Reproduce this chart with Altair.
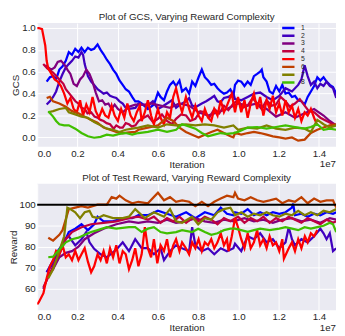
import altair as alt
import pandas as pd

# ---------------- data (x in units of 1e7 iterations) ----------------
series_names = ["1", "2", "3", "4", "5", "6", "7", "8"]
series_colors = ["#0000FF", "#4000BF", "#800080", "#BF0040",
                 "#FF0000", "#BF4000", "#808000", "#40BF00"]

x_ticks = [0.0, 0.2, 0.4, 0.6, 0.8, 1.0, 1.2, 1.4]
gcs_ticks = [0.0, 0.2, 0.4, 0.6, 0.8, 1.0]
reward_ticks = [60, 70, 80, 90, 100]
reward_target = [100]

# ---- GCS panel ----
gcs_x1 = [0.047, 0.063, 0.079, 0.094, 0.11, 0.126, 0.142, 0.157, 0.173, 0.189, 0.205, 0.22, 0.236, 0.252, 0.268, 0.283, 0.30, 0.315, 0.33, 0.346, 0.362, 0.377, 0.393, 0.409, 0.425, 0.44, 0.456, 0.472, 0.487, 0.503, 0.519, 0.55, 0.58, 0.60, 0.613, 0.63, 0.645, 0.66, 0.676, 0.69, 0.707, 0.72, 0.739, 0.755, 0.77, 0.786, 0.802, 0.818, 0.833, 0.849, 0.865, 0.88, 0.896, 0.912, 0.928, 0.943, 0.96, 0.975, 0.983, 0.998, 1.014, 1.03, 1.046, 1.061, 1.077, 1.093, 1.108, 1.116, 1.124, 1.14, 1.155, 1.171, 1.187, 1.203, 1.218, 1.234, 1.25, 1.266, 1.281, 1.297, 1.313, 1.329, 1.344, 1.36, 1.376, 1.392, 1.407, 1.423, 1.438, 1.454, 1.47, 1.486]
gcs_y1 = [0.51, 0.55, 0.56, 0.53, 0.62, 0.65, 0.70, 0.78, 0.755, 0.81, 0.78, 0.82, 0.78, 0.82, 0.80, 0.81, 0.85, 0.80, 0.76, 0.71, 0.67, 0.62, 0.58, 0.52, 0.48, 0.44, 0.42, 0.37, 0.33, 0.33, 0.31, 0.26, 0.30, 0.41, 0.37, 0.34, 0.42, 0.48, 0.51, 0.47, 0.52, 0.42, 0.45, 0.40, 0.51, 0.47, 0.55, 0.62, 0.55, 0.52, 0.48, 0.49, 0.45, 0.42, 0.40, 0.41, 0.44, 0.38, 0.48, 0.52, 0.51, 0.47, 0.51, 0.48, 0.56, 0.58, 0.60, 0.62, 0.55, 0.51, 0.42, 0.40, 0.47, 0.42, 0.48, 0.40, 0.41, 0.37, 0.38, 0.34, 0.33, 0.30, 0.37, 0.42, 0.47, 0.55, 0.52, 0.55, 0.51, 0.48, 0.46, 0.40]

gcs_x2 = [0.047, 0.063, 0.079, 0.094, 0.11, 0.126, 0.142, 0.157, 0.173, 0.189, 0.205, 0.22, 0.228, 0.236, 0.252, 0.268, 0.283, 0.30, 0.315, 0.33, 0.346, 0.362, 0.377, 0.393, 0.409, 0.425, 0.44, 0.456, 0.488, 0.503, 0.52, 0.55, 0.575, 0.60, 0.62, 0.645, 0.67, 0.69, 0.71, 0.74, 0.755, 0.77, 0.79, 0.818, 0.84, 0.865, 0.88, 0.896, 0.91, 0.928, 0.95, 0.975, 0.983, 1.014, 1.046, 1.077, 1.108, 1.14, 1.171, 1.203, 1.234, 1.266, 1.297, 1.313, 1.329, 1.344, 1.36, 1.376, 1.392, 1.407, 1.423, 1.438, 1.454, 1.47, 1.486]
gcs_y2 = [0.30, 0.33, 0.37, 0.42, 0.51, 0.58, 0.64, 0.67, 0.70, 0.74, 0.73, 0.78, 0.755, 0.67, 0.56, 0.51, 0.48, 0.44, 0.42, 0.40, 0.41, 0.38, 0.37, 0.36, 0.33, 0.31, 0.27, 0.26, 0.27, 0.31, 0.30, 0.29, 0.33, 0.26, 0.28, 0.31, 0.34, 0.27, 0.30, 0.33, 0.36, 0.29, 0.28, 0.31, 0.33, 0.36, 0.38, 0.33, 0.32, 0.36, 0.37, 0.40, 0.35, 0.34, 0.37, 0.40, 0.41, 0.37, 0.34, 0.38, 0.45, 0.42, 0.48, 0.53, 0.66, 0.56, 0.48, 0.51, 0.45, 0.49, 0.47, 0.51, 0.47, 0.45, 0.36]

gcs_x3 = [0.04, 0.055, 0.07, 0.087, 0.102, 0.118, 0.134, 0.15, 0.165, 0.181, 0.197, 0.213, 0.228, 0.244, 0.26, 0.275, 0.291, 0.307, 0.323, 0.338, 0.354, 0.37, 0.385, 0.401, 0.425, 0.456, 0.488, 0.503, 0.535, 0.566, 0.613, 0.66, 0.707, 0.755, 0.802, 0.849, 0.896, 0.943, 0.975, 0.998, 1.046, 1.093, 1.14, 1.187, 1.234, 1.281, 1.329, 1.376, 1.423, 1.454, 1.486]
gcs_y3 = [0.66, 0.64, 0.62, 0.64, 0.69, 0.70, 0.67, 0.62, 0.58, 0.49, 0.47, 0.53, 0.56, 0.62, 0.58, 0.51, 0.41, 0.33, 0.34, 0.30, 0.31, 0.26, 0.30, 0.26, 0.23, 0.28, 0.30, 0.30, 0.30, 0.31, 0.29, 0.27, 0.31, 0.29, 0.23, 0.20, 0.23, 0.26, 0.29, 0.31, 0.29, 0.31, 0.26, 0.19, 0.23, 0.18, 0.22, 0.26, 0.20, 0.15, 0.11]

gcs_x4 = [0.03, 0.05, 0.08, 0.11, 0.13, 0.142, 0.16, 0.173, 0.19, 0.205, 0.22, 0.236, 0.25, 0.268, 0.285, 0.30, 0.315, 0.33, 0.345, 0.362, 0.38, 0.393, 0.41, 0.425, 0.44, 0.456, 0.47, 0.488, 0.503, 0.52, 0.55, 0.575, 0.60, 0.62, 0.645, 0.67, 0.69, 0.715, 0.74, 0.76, 0.786, 0.81, 0.833, 0.855, 0.88, 0.905, 0.928, 0.95, 0.975, 0.998, 1.02, 1.046, 1.07, 1.093, 1.115, 1.14, 1.165, 1.187, 1.21, 1.234, 1.255, 1.281, 1.305, 1.329, 1.35, 1.376, 1.407, 1.438, 1.47, 1.486]
gcs_y4 = [0.67, 0.63, 0.59, 0.53, 0.49, 0.44, 0.40, 0.37, 0.33, 0.31, 0.27, 0.26, 0.22, 0.23, 0.19, 0.18, 0.16, 0.15, 0.13, 0.12, 0.08, 0.11, 0.09, 0.09, 0.13, 0.12, 0.10, 0.11, 0.15, 0.17, 0.20, 0.14, 0.17, 0.21, 0.15, 0.12, 0.17, 0.21, 0.20, 0.15, 0.17, 0.24, 0.23, 0.18, 0.26, 0.22, 0.29, 0.25, 0.31, 0.34, 0.27, 0.29, 0.36, 0.31, 0.26, 0.34, 0.29, 0.30, 0.37, 0.33, 0.28, 0.31, 0.35, 0.29, 0.24, 0.23, 0.18, 0.15, 0.12, 0.11]

gcs_x5 = [0.0, 0.008, 0.024, 0.04, 0.047, 0.055, 0.071, 0.087, 0.102, 0.118, 0.134, 0.15, 0.165, 0.181, 0.197, 0.213, 0.228, 0.244, 0.26, 0.275, 0.291, 0.307, 0.323, 0.338, 0.354, 0.37, 0.385, 0.401, 0.417, 0.433, 0.448, 0.464, 0.48, 0.495, 0.51, 0.519, 0.535, 0.55, 0.566, 0.58, 0.60, 0.613, 0.63, 0.645, 0.66, 0.676, 0.69, 0.707, 0.72, 0.739, 0.755, 0.77, 0.786, 0.802, 0.818, 0.833, 0.849, 0.865, 0.88, 0.896, 0.912, 0.928, 0.943, 0.96, 0.967, 0.983, 0.998, 1.014, 1.03, 1.046, 1.061, 1.077, 1.093, 1.108, 1.124, 1.14, 1.155, 1.171, 1.187, 1.203, 1.218, 1.234, 1.25, 1.266, 1.281, 1.297, 1.313, 1.329, 1.344, 1.36, 1.376, 1.392]
gcs_y5 = [1.0, 1.0, 0.99, 0.84, 0.70, 0.63, 0.58, 0.53, 0.51, 0.47, 0.40, 0.31, 0.36, 0.26, 0.23, 0.34, 0.20, 0.30, 0.23, 0.37, 0.24, 0.18, 0.26, 0.20, 0.18, 0.29, 0.20, 0.15, 0.26, 0.18, 0.31, 0.20, 0.15, 0.23, 0.29, 0.15, 0.23, 0.34, 0.20, 0.12, 0.26, 0.18, 0.12, 0.23, 0.18, 0.37, 0.45, 0.31, 0.23, 0.37, 0.26, 0.18, 0.29, 0.20, 0.15, 0.26, 0.18, 0.15, 0.26, 0.20, 0.34, 0.23, 0.29, 0.37, 0.40, 0.23, 0.37, 0.23, 0.34, 0.18, 0.31, 0.40, 0.26, 0.37, 0.20, 0.34, 0.26, 0.38, 0.23, 0.31, 0.20, 0.34, 0.23, 0.29, 0.18, 0.26, 0.15, 0.23, 0.20, 0.26, 0.18, 0.11]

gcs_x6 = [0.047, 0.063, 0.079, 0.11, 0.142, 0.173, 0.205, 0.236, 0.268, 0.30, 0.33, 0.362, 0.393, 0.425, 0.456, 0.488, 0.503, 0.55, 0.60, 0.645, 0.676, 0.707, 0.739, 0.77, 0.802, 0.833, 0.865, 0.896, 0.928, 0.96, 0.975, 0.983, 1.014, 1.046, 1.077, 1.108, 1.14, 1.171, 1.203, 1.234, 1.266, 1.297, 1.329, 1.36, 1.392, 1.423, 1.454, 1.486]
gcs_y6 = [0.36, 0.37, 0.33, 0.31, 0.28, 0.24, 0.22, 0.19, 0.16, 0.135, 0.09, 0.07, 0.05, 0.04, 0.045, 0.05, 0.07, 0.09, 0.11, 0.18, 0.15, 0.09, 0.05, 0.025, 0.0, 0.025, 0.05, 0.07, 0.04, 0.01, 0.0, 0.04, 0.025, 0.04, 0.05, 0.04, 0.025, 0.01, 0.0, -0.01, 0.0, -0.03, -0.02, 0.04, 0.07, 0.09, 0.11, 0.12]

gcs_x7 = [0.055, 0.079, 0.11, 0.142, 0.157, 0.189, 0.22, 0.252, 0.283, 0.315, 0.346, 0.377, 0.409, 0.44, 0.472, 0.503, 0.55, 0.60, 0.645, 0.69, 0.739, 0.786, 0.833, 0.88, 0.928, 0.975, 0.998, 1.046, 1.093, 1.14, 1.187, 1.234, 1.281, 1.329, 1.36, 1.392, 1.423, 1.454, 1.486]
gcs_y7 = [0.23, 0.24, 0.26, 0.27, 0.23, 0.21, 0.19, 0.18, 0.14, 0.11, 0.08, 0.07, 0.05, 0.07, 0.08, 0.09, 0.11, 0.09, 0.12, 0.11, 0.12, 0.11, 0.12, 0.11, 0.09, 0.11, 0.07, 0.09, 0.08, 0.11, 0.08, 0.07, 0.09, 0.08, 0.05, 0.16, 0.12, 0.09, 0.11]

gcs_x8 = [0.055, 0.079, 0.094, 0.11, 0.134, 0.157, 0.189, 0.22, 0.252, 0.283, 0.315, 0.346, 0.377, 0.409, 0.44, 0.472, 0.503, 0.55, 0.60, 0.645, 0.69, 0.72, 0.739, 0.786, 0.818, 0.849, 0.88, 0.912, 0.943, 0.975, 0.998, 1.046, 1.093, 1.14, 1.187, 1.234, 1.281, 1.329, 1.36, 1.392, 1.423, 1.454, 1.486]
gcs_y8 = [0.24, 0.19, 0.15, 0.12, 0.11, 0.11, 0.08, 0.04, 0.01, -0.003, 0.005, 0.025, 0.017, 0.033, 0.04, 0.025, 0.04, 0.05, 0.07, 0.05, 0.07, 0.12, 0.11, 0.08, 0.04, 0.01, 0.025, 0.04, 0.033, 0.04, 0.05, 0.09, 0.095, 0.08, 0.095, 0.11, 0.095, 0.08, 0.095, 0.12, 0.07, 0.08, 0.07]

# ---- Reward panel ----
rew_x1 = [0.047, 0.079, 0.102, 0.134, 0.157, 0.189, 0.22, 0.252, 0.283, 0.30, 0.33, 0.377, 0.425, 0.472, 0.503, 0.55, 0.60, 0.645, 0.69, 0.74, 0.786, 0.833, 0.88, 0.912, 0.943, 0.975, 0.983, 1.014, 1.046, 1.077, 1.108, 1.14, 1.171, 1.203, 1.234, 1.266, 1.272, 1.281, 1.313, 1.344, 1.376, 1.407, 1.438, 1.47, 1.486]
rew_y1 = [67.9, 72.1, 78.0, 82.1, 87.0, 88.6, 90.7, 87.9, 90.7, 94.3, 92.1, 92.1, 93.6, 93.6, 95.0, 95.0, 97.1, 95.7, 94.3, 96.4, 93.6, 96.4, 95.0, 98.6, 95.7, 95.0, 96.4, 95.7, 97.9, 95.0, 96.4, 95.0, 96.4, 95.7, 96.4, 98.6, 100.5, 95.0, 95.7, 94.3, 95.7, 95.0, 96.4, 95.7, 96.4]

rew_x2 = [0.047, 0.079, 0.11, 0.134, 0.157, 0.189, 0.22, 0.244, 0.26, 0.283, 0.315, 0.346, 0.393, 0.425, 0.456, 0.487, 0.519, 0.55, 0.58, 0.613, 0.63, 0.66, 0.69, 0.72, 0.755, 0.77, 0.786, 0.818, 0.849, 0.88, 0.912, 0.943, 0.975, 0.983, 1.014, 1.046, 1.077, 1.108, 1.14, 1.171, 1.203, 1.234, 1.25, 1.266, 1.281, 1.313, 1.344, 1.376, 1.407, 1.423, 1.438, 1.454, 1.47, 1.486]
rew_y2 = [67.9, 73.6, 78.0, 83.6, 85.0, 80.7, 83.6, 87.0, 82.1, 79.0, 76.4, 75.0, 78.6, 82.1, 77.9, 83.6, 79.3, 79.3, 76.4, 79.3, 73.6, 77.9, 80.7, 79.3, 77.9, 89.3, 80.7, 77.9, 79.3, 76.4, 79.3, 77.9, 79.3, 81.4, 77.9, 85.0, 83.6, 86.4, 82.1, 83.6, 79.3, 82.1, 89.3, 83.6, 80.7, 83.6, 82.1, 85.0, 88.6, 86.4, 83.6, 86.4, 77.9, 79.3]

rew_x3 = [0.03, 0.055, 0.079, 0.11, 0.142, 0.173, 0.205, 0.236, 0.283, 0.33, 0.393, 0.456, 0.503, 0.55, 0.60, 0.645, 0.69, 0.74, 0.786, 0.833, 0.88, 0.928, 0.975, 1.03, 1.077, 1.124, 1.171, 1.218, 1.266, 1.313, 1.36, 1.407, 1.454, 1.486]
rew_y3 = [60.0, 66.0, 69.3, 75.0, 77.1, 77.9, 80.0, 83.6, 86.4, 88.6, 90.7, 92.1, 91.4, 92.1, 91.4, 92.9, 91.4, 92.1, 93.6, 92.1, 91.4, 92.9, 92.1, 93.6, 92.1, 92.9, 91.4, 92.9, 93.6, 92.1, 92.9, 91.4, 93.6, 92.9]

rew_x4 = [0.031, 0.079, 0.11, 0.142, 0.173, 0.22, 0.268, 0.33, 0.393, 0.456, 0.503, 0.55, 0.58, 0.613, 0.645, 0.676, 0.707, 0.74, 0.77, 0.802, 0.833, 0.865, 0.896, 0.928, 0.96, 0.998, 1.03, 1.061, 1.093, 1.124, 1.155, 1.187, 1.218, 1.25, 1.281, 1.313, 1.344, 1.376, 1.407, 1.438, 1.47, 1.486]
rew_y4 = [60.7, 70.7, 76.4, 83.6, 87.0, 89.3, 90.7, 91.4, 92.1, 93.6, 94.3, 92.9, 94.3, 91.4, 93.6, 92.1, 94.3, 91.4, 93.6, 92.1, 94.3, 92.9, 90.7, 93.6, 92.1, 94.3, 91.4, 93.6, 92.1, 94.3, 91.4, 93.6, 92.1, 94.3, 92.9, 91.4, 93.6, 92.1, 90.7, 92.9, 91.4, 92.1]

rew_x5 = [0.0, 0.008, 0.031, 0.047, 0.063, 0.079, 0.094, 0.11, 0.126, 0.142, 0.157, 0.173, 0.189, 0.205, 0.22, 0.236, 0.252, 0.268, 0.283, 0.30, 0.315, 0.33, 0.346, 0.362, 0.377, 0.393, 0.409, 0.425, 0.44, 0.456, 0.472, 0.487, 0.503, 0.519, 0.535, 0.55, 0.566, 0.58, 0.597, 0.613, 0.63, 0.645, 0.66, 0.676, 0.69, 0.707, 0.72, 0.739, 0.755, 0.77, 0.786, 0.802, 0.818, 0.833, 0.849, 0.865, 0.88, 0.896, 0.912, 0.928, 0.943, 0.951, 0.967, 0.983, 0.998, 1.014, 1.03, 1.046, 1.061, 1.077, 1.093, 1.108, 1.124, 1.14, 1.155, 1.171, 1.187, 1.203, 1.218, 1.226, 1.25, 1.266, 1.281, 1.297, 1.313, 1.33, 1.344, 1.36, 1.376, 1.392]
rew_y5 = [52.6, 53.6, 57.9, 65.0, 70.7, 73.6, 78.0, 76.4, 80.7, 75.0, 76.4, 73.6, 78.0, 73.6, 76.4, 79.3, 72.9, 67.9, 70.7, 76.4, 73.6, 77.9, 72.1, 79.3, 75.0, 80.7, 72.1, 77.9, 76.4, 69.3, 73.6, 79.3, 70.7, 76.4, 89.3, 79.3, 75.0, 83.6, 72.1, 80.7, 77.9, 83.6, 75.0, 80.7, 83.6, 77.9, 82.1, 79.3, 76.4, 82.1, 79.3, 83.6, 77.9, 82.1, 80.7, 83.6, 79.3, 82.1, 86.4, 80.7, 83.6, 77.9, 85.0, 93.6, 89.3, 83.6, 79.3, 86.4, 79.3, 82.1, 87.9, 80.7, 83.6, 79.3, 85.0, 80.7, 82.1, 77.9, 83.6, 74.3, 79.3, 82.1, 77.9, 83.6, 79.3, 85.0, 82.1, 86.4, 85.0, 87.9]

rew_x6 = [0.055, 0.079, 0.11, 0.126, 0.157, 0.189, 0.22, 0.252, 0.30, 0.346, 0.37, 0.393, 0.409, 0.44, 0.472, 0.503, 0.55, 0.60, 0.63, 0.66, 0.69, 0.72, 0.755, 0.786, 0.818, 0.849, 0.88, 0.912, 0.943, 0.975, 0.983, 0.998, 1.03, 1.061, 1.093, 1.124, 1.155, 1.187, 1.218, 1.25, 1.281, 1.313, 1.344, 1.376, 1.407, 1.438, 1.47, 1.486]
rew_y6 = [84.3, 82.9, 85.7, 87.9, 97.9, 98.6, 99.3, 98.6, 100.0, 100.0, 103.6, 102.9, 104.3, 102.1, 100.7, 101.4, 100.7, 105.7, 102.1, 103.6, 101.4, 102.1, 101.4, 99.3, 101.4, 99.3, 101.4, 102.9, 104.3, 103.6, 105.7, 102.9, 102.1, 103.6, 102.1, 101.4, 102.1, 102.9, 100.7, 102.1, 101.4, 103.6, 100.7, 102.9, 101.4, 102.1, 102.1, 98.6]

rew_x7 = [0.055, 0.079, 0.11, 0.134, 0.15, 0.165, 0.189, 0.213, 0.236, 0.26, 0.275, 0.30, 0.33, 0.377, 0.425, 0.456, 0.487, 0.535, 0.58, 0.63, 0.66, 0.69, 0.72, 0.77, 0.80, 0.833, 0.865, 0.896, 0.928, 0.96, 0.983, 1.014, 1.046, 1.077, 1.108, 1.14, 1.171, 1.203, 1.234, 1.266, 1.297, 1.329, 1.36, 1.392, 1.423, 1.454, 1.486]
rew_y7 = [65.0, 69.3, 77.9, 85.0, 98.6, 97.9, 96.4, 93.6, 96.4, 97.1, 94.3, 93.6, 95.0, 93.6, 93.6, 94.3, 97.9, 93.6, 96.4, 94.3, 97.9, 92.1, 91.4, 94.3, 90.7, 93.6, 92.9, 96.4, 97.9, 98.6, 95.0, 96.4, 94.3, 95.7, 95.0, 96.4, 95.0, 94.3, 95.7, 95.0, 97.1, 95.0, 96.4, 95.0, 97.1, 96.4, 97.9]

rew_x8 = [0.055, 0.079, 0.11, 0.142, 0.173, 0.205, 0.236, 0.268, 0.30, 0.346, 0.393, 0.456, 0.487, 0.519, 0.55, 0.58, 0.613, 0.645, 0.69, 0.72, 0.77, 0.80, 0.833, 0.865, 0.896, 0.928, 0.96, 0.983, 1.014, 1.046, 1.077, 1.108, 1.155, 1.203, 1.234, 1.266, 1.297, 1.329, 1.36, 1.392, 1.423, 1.454, 1.47, 1.486]
rew_y8 = [75.0, 75.3, 78.6, 82.1, 83.6, 84.3, 85.7, 87.0, 87.9, 89.3, 88.6, 89.3, 89.3, 87.0, 88.6, 89.3, 87.0, 86.4, 87.0, 87.9, 87.0, 88.6, 87.0, 85.7, 86.4, 87.9, 88.6, 88.6, 87.9, 87.1, 87.9, 88.6, 87.9, 88.6, 89.3, 88.6, 87.9, 89.3, 88.6, 89.3, 90.0, 91.4, 90.7, 87.0]


def build(xs, ys):
    rows = []
    for name, xv, yv in zip(series_names, xs, ys):
        for a, b in zip(xv, yv):
            rows.append({"series": name, "x": a, "y": b})
    return pd.DataFrame(rows)


gcs_df = build([gcs_x1, gcs_x2, gcs_x3, gcs_x4, gcs_x5, gcs_x6, gcs_x7, gcs_x8],
               [gcs_y1, gcs_y2, gcs_y3, gcs_y4, gcs_y5, gcs_y6, gcs_y7, gcs_y8])
rew_df = build([rew_x1, rew_x2, rew_x3, rew_x4, rew_x5, rew_x6, rew_x7, rew_x8],
               [rew_y1, rew_y2, rew_y3, rew_y4, rew_y5, rew_y6, rew_y7, rew_y8])

W = 307
H1 = 127
H2 = 130
FONT = "Liberation Sans"
TXT = "#262626"

color_scale = alt.Scale(domain=series_names, range=series_colors)
x_scale = alt.Scale(domain=[0, 1.485], nice=False, zero=False)
rew_scale = alt.Scale(domain=[49.8, 110], nice=False, zero=False)


def x_axis():
    return alt.Axis(values=x_ticks, format=".1f", title="Iteration",
                    labelPadding=2, titlePadding=1, labelOverlap=False)


def rew_axis():
    return alt.Axis(values=reward_ticks, format="d", title="Reward",
                    labelPadding=2, titlePadding=1, labelOverlap=False)


# ---- top panel ----
gcs_lines = alt.Chart(gcs_df).mark_line(strokeWidth=2.3, clip=True).encode(
    x=alt.X("x:Q", scale=x_scale, axis=x_axis()),
    y=alt.Y("y:Q", scale=alt.Scale(domain=[-0.085, 1.045], nice=False, zero=False),
            axis=alt.Axis(values=gcs_ticks, format=".1f", title="GCS",
                          labelPadding=2, titlePadding=1, labelOverlap=False)),
    color=alt.Color("series:N", scale=color_scale, sort=series_names,
                    legend=alt.Legend(title=None, orient="none", legendX=250, legendY=1,
                                      symbolType="stroke", symbolStrokeWidth=2.5,
                                      symbolSize=160, labelFontSize=7, labelOffset=5,
                                      clipHeight=8, rowPadding=0, padding=0,
                                      labelColor=TXT, labelFont=FONT)),
)
e7_top = alt.Chart(pd.DataFrame({"t": ["1e7"]})).mark_text(
    align="right", baseline="top", fontSize=10, font=FONT, color=TXT
).encode(x=alt.value(W), y=alt.value(H1 + 13), text="t:N")

top = alt.layer(gcs_lines, e7_top).properties(
    width=W, height=H1,
    title=alt.TitleParams("Plot of GCS, Varying Reward Complexity", fontSize=10,
                          fontWeight="normal", font=FONT, color=TXT, offset=1),
)

# ---- bottom panel ----
rew_lines = alt.Chart(rew_df).mark_line(strokeWidth=2.3, clip=True).encode(
    x=alt.X("x:Q", scale=x_scale, axis=x_axis()),
    y=alt.Y("y:Q", scale=rew_scale, axis=rew_axis()),
    color=alt.Color("series:N", scale=color_scale, sort=series_names, legend=None),
)
target_rule = alt.Chart(pd.DataFrame({"y": reward_target})).mark_rule(
    color="black", strokeWidth=2
).encode(y=alt.Y("y:Q", scale=rew_scale, axis=rew_axis()))
e7_bot = alt.Chart(pd.DataFrame({"t": ["1e7"]})).mark_text(
    align="right", baseline="top", fontSize=10, font=FONT, color=TXT
).encode(x=alt.value(W), y=alt.value(H2 + 13), text="t:N")

bottom = alt.layer(rew_lines, target_rule, e7_bot).properties(
    width=W, height=H2,
    title=alt.TitleParams("Plot of Test Reward, Varying Reward Complexity", fontSize=10,
                          fontWeight="normal", font=FONT, color=TXT, offset=1),
)

chart = alt.vconcat(top, bottom, spacing=4).resolve_scale(color="independent").configure(
    background="white", padding=0
).configure_view(
    fill="#EAEAF2", stroke=None
).configure_axis(
    grid=True, gridColor="white", gridWidth=1, domain=False, ticks=False,
    labelFont=FONT, titleFont=FONT, labelFontSize=10, titleFontSize=10,
    titleFontWeight="normal", labelColor=TXT, titleColor=TXT,
)

chart.save("out.html", embed_options={"renderer": "svg", "actions": False})
